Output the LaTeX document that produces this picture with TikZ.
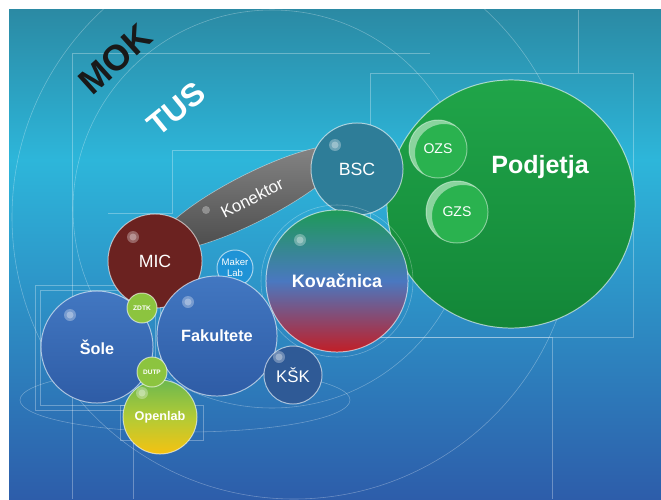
\documentclass[tikz,border=0pt]{standalone}
\usepackage{fontspec}
\setmainfont{Liberation Sans}
\usetikzlibrary{shapes.geometric,calc}

\definecolor{bgtop}{HTML}{2B8AA4}
\definecolor{bgmid}{HTML}{2DB6DA}
\definecolor{bgbot}{HTML}{2D5DAA}
\definecolor{pgtop}{HTML}{20A549}
\definecolor{pgbot}{HTML}{138638}
\definecolor{zbgreen}{HTML}{2AB24F}
\definecolor{bscteal}{HTML}{2E7D98}
\definecolor{micred}{HTML}{6B2220}
\definecolor{fktop}{HTML}{4277C1}
\definecolor{fkbot}{HTML}{2E5CA6}
\definecolor{kskblue}{HTML}{2F5A96}
\definecolor{makerblue}{HTML}{1F93D6}
\definecolor{limegreen}{HTML}{8CC43F}
\definecolor{oltop}{HTML}{6CB84E}
\definecolor{olmid}{HTML}{B2CB36}
\definecolor{olbot}{HTML}{F5C211}
\definecolor{kvtop}{HTML}{1E9A58}
\definecolor{kvmid}{HTML}{4A78C0}
\definecolor{kvbot}{HTML}{C21E26}
\definecolor{kntop}{HTML}{888888}
\definecolor{knbot}{HTML}{4E4E4E}

\begin{document}
\begin{tikzpicture}[x=0.025cm, y=-0.025cm,
  bub/.style={circle, inner sep=0pt, minimum size=#1*0.05cm, draw=white,
    draw opacity=.6, line width=.7pt, text=white, align=center},
  frame/.style={draw=white, draw opacity=.3, line width=.4pt},
  spot/.style={fill=white, opacity=.3},
  fsz/.style={font=\fontsize{#1}{#1}\selectfont},
  bfsz/.style={font=\fontsize{#1}{#1}\selectfont\bfseries}]

\useasboundingbox (0,0) rectangle (661,499);
\shade[top color=bgtop, bottom color=bgmid] (9,10) rectangle (661,160);
\shade[top color=bgmid, bottom color=bgbot] (9,159.5) rectangle (661,499);

\begin{scope}
\clip (9,10) rectangle (661,499);
\draw[frame] (294,217) circle (282);
\draw[frame] (272,209) circle (199);
\draw[frame] (72,499) -- (72,53) -- (430,53);
\draw[frame] (578,10) -- (578,73) -- (633,73) -- (633,337) -- (370,337) -- (370,73) -- (578,73);
\draw[frame] (330,337) -- (552,337) -- (552,499);
\draw[frame] (35,285) rectangle (160,410);
\draw[frame] (40,290) rectangle (155,405);
\draw[frame] (120,405) rectangle (203,440);
\draw[frame] (133,440) -- (133,499);
\draw[frame] (108,213) -- (172,213) -- (172,150) -- (330,150);
\draw[frame] (185,400) ellipse (165 and 32);
\end{scope}

\node[bub=124, top color=pgtop, bottom color=pgbot] (podjetja) at (511,204) {};
\node[bfsz=17.8, text=white] (podjetja-lbl) at (540,167) {Podjetja};
\node[bub=29, fill=zbgreen, draw opacity=.4, fsz=10] (ozs) at (438,149) {OZS};
\node[bub=31, fill=zbgreen, draw opacity=.4, fsz=10] (gzs) at (457,212) {GZS};
\foreach \n/\r in {ozs/29, gzs/31} {
  \begin{scope}
    \clip (\n.center) circle (\r);
    \fill[white, opacity=.45, even odd rule] (\n.center) circle (\r) ($(\n.center)+(6,4)$) circle (\r);
  \end{scope}
}

\node[ellipse, minimum width=210*0.025cm, minimum height=48*0.025cm, rotate=27,
  top color=kntop, bottom color=knbot, draw=white, draw opacity=.5, text=white,
  fsz=12] (konektor) at (252,198) {Konektor};
\fill[spot] ($(konektor.center)+(-46,12)$) circle (4);

\node[bub=46, fill=bscteal, fsz=12.6] (bsc) at (357,169) {BSC};
\draw[frame] (337,281) circle (76);
\node[bub=71, top color=kvtop, bottom color=kvbot, middle color=kvmid,
  bfsz=12.8] (kovacnica) at (337,281) {Kovačnica};
\node[bub=47, fill=micred, fsz=12.6] (mic) at (155,261) {MIC};
\node[bub=18, fill=makerblue, font=\fontsize{6.8}{7.8}\selectfont] (maker) at (235,268) {Maker\\Lab};
\node[bub=56, top color=fktop, bottom color=fkbot, bfsz=11.5] (sole) at (97,347) {Šole};
\node[bub=60, top color=fktop, bottom color=fkbot, bfsz=11.6] (fakultete) at (217,336) {Fakultete};
\node[bub=29, fill=kskblue, fsz=12] (ksk) at (293,375) {KŠK};
\node[bub=37, top color=oltop, bottom color=olbot, middle color=olmid,
  bfsz=9] (openlab) at (160,417) {Openlab};
\node[bub=15, fill=limegreen, bfsz=4.7] (zdtk) at (142,308) {ZDTK};
\node[bub=15, fill=limegreen, bfsz=4.6] (dutp) at (152,372) {DUTP};

\foreach \n/\dx/\dy in {mic/-22/-24, sole/-27/-32, fakultete/-29/-34, kovacnica/-37/-41,
  bsc/-22/-24, openlab/-18/-24, ksk/-14/-18} {
  \fill[spot] ($(\n.center)+(\dx,\dy)$) circle (6);
  \fill[spot] ($(\n.center)+(\dx,\dy)$) circle (3.5);
}

\node[rotate=42, bfsz=25.5, text=black!90] (mok) at (115,59) {MOK};
\node[rotate=39, bfsz=22.7, text=white] (tus) at (176,109) {TUS};

\end{tikzpicture}
\end{document}
